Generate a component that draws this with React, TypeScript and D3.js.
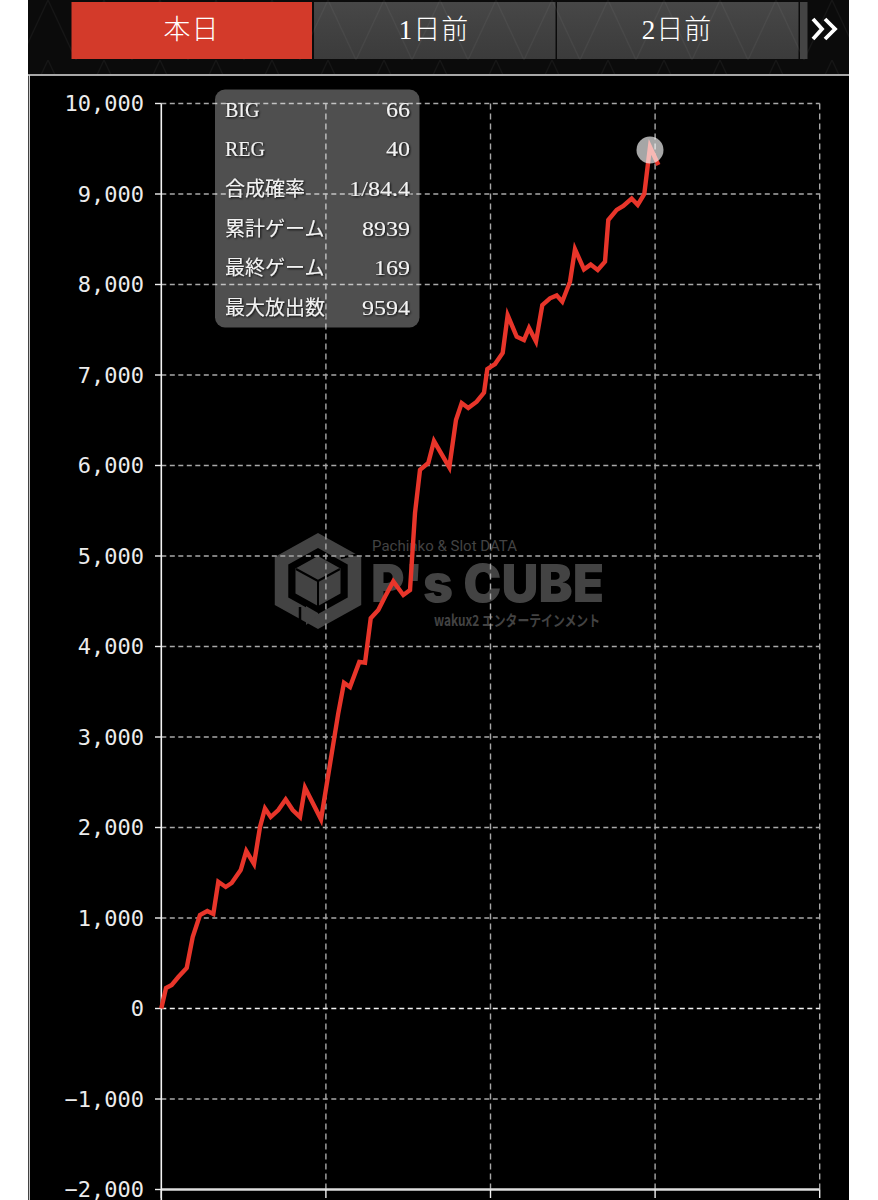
import React from "react";
import * as d3 from "d3";

const tabLabels = ["本日", "1日前", "2日前"];
const statLabels = ["BIG", "REG", "合成確率", "累計ゲーム", "最終ゲーム", "最大放出数"];
const statValues = ["66", "40", "1/84.4", "8939", "169", "9594"];
const yTicks = [-2000, -1000, 0, 1000, 2000, 3000, 4000, 5000, 6000, 7000, 8000, 9000, 10000];
const xTicks = [0, 3000, 6000, 9000, 12000];
const games = [0, 86, 190, 310, 463, 572, 705, 838, 948, 1039, 1174, 1283, 1447, 1549, 1690, 1799, 1890, 1994, 2132, 2267, 2395, 2528, 2619, 2911, 3226, 3330, 3439, 3609, 3713, 3817, 3955, 4077, 4228, 4411, 4533, 4624, 4715, 4866, 4970, 5249, 5371, 5475, 5595, 5748, 5882, 5942, 6082, 6222, 6313, 6477, 6610, 6702, 6829, 6944, 7084, 7206, 7308, 7449, 7540, 7704, 7826, 7954, 8087, 8147, 8300, 8420, 8573, 8683, 8803, 8907, 9060];
const coins = [0, 227, 260, 348, 448, 790, 1033, 1077, 1044, 1400, 1343, 1387, 1530, 1740, 1597, 2006, 2210, 2116, 2193, 2310, 2193, 2116, 2440, 2090, 3265, 3600, 3553, 3830, 3821, 4312, 4404, 4550, 4720, 4569, 4624, 5475, 5951, 6028, 6270, 5980, 6503, 6690, 6636, 6705, 6805, 7066, 7121, 7243, 7660, 7423, 7387, 7520, 7370, 7773, 7848, 7880, 7810, 8031, 8390, 8168, 8220, 8161, 8252, 8713, 8824, 8868, 8950, 8879, 9001, 9520, 9320];
const peakIndex = 69;

const W = 878, H = 1200;
const x = d3.scaleLinear().domain([0, 12000]).range([161.3, 819.7]);
const y = d3.scaleLinear().domain([-2000, 10000]).range([1189.5, 103.5]);
const fmt = d3.format(",");
const MONO = "'DejaVu Sans Mono', monospace";
const SERIF = "'Liberation Serif', 'Noto Sans CJK JP', serif";
const WM = "#434343";

function Logo() {
  const hex = (cx: number, cy: number, r: number) => d3.range(6).map((i) => {
    const a = (Math.PI / 3) * i - Math.PI / 2;
    return `${cx + r * 1.04 * 0.866 * Math.cos(a) / 0.866},${cy + r * Math.sin(a)}`;
  }).join(" ");
  return (
    <g>
      <polygon points={hex(318, 581, 48)} fill={WM} />
      <polygon points={hex(318, 581, 33)} fill="#000" />
      <polygon points={hex(318, 581, 25)} fill={WM} />
      <polyline points="296,569 318,581 340,569" fill="none" stroke="#000" strokeWidth={2} />
      <line x1={318} y1={581} x2={318} y2={606} stroke="#000" strokeWidth={2} />
      <polyline points="276,557 318,581" fill="none" stroke="#000" strokeWidth={0} />
      <line x1={319} y1={533} x2={319} y2={547} stroke="#000" strokeWidth={0} />
      <polyline points="300,543 318,533" fill="none" stroke="#000" strokeWidth={0} />
      <polygon points="306,606 318,613 318,615 306,625" fill={WM} />
      <line x1={300} y1={607} x2={300} y2={630} stroke="#000" strokeWidth={2.5} />
      <line x1={341} y1={558} x2={363} y2={553} stroke="#000" strokeWidth={2} />
      <text x={372} y={551} fontFamily="'Roboto', sans-serif" fontSize={15} fill={WM} textLength={145} lengthAdjust="spacingAndGlyphs">Pachinko &amp; Slot DATA</text>
      <text x={371} y={602} fontFamily="'Inter', 'Roboto', sans-serif" fontWeight={900} fontSize={52} fill={WM} textLength={233} lengthAdjust="spacingAndGlyphs">P's CUBE</text>
      <text x={434} y={626} fontFamily="'Noto Sans CJK JP', sans-serif" fontWeight={700} fontSize={15} fill={WM} textLength={166} lengthAdjust="spacingAndGlyphs">wakux2 エンターテインメント</text>
    </g>
  );
}

export default function App() {
  const pts = games.map((g, i) => [g, coins[i]] as [number, number]);
  const path = d3.line<[number, number]>().x((d) => x(d[0])).y((d) => y(d[1])).curve(d3.curveLinear)(pts) as string;
  const tabX = [71.5, 314, 557];
  return (
    <svg width={W} height={H} viewBox={`0 0 ${W} ${H}`} style={{ position: "absolute", left: 0, top: 0, background: "#fff" }}>
      <defs>
        <pattern id="diamond" width={56} height={60} patternUnits="userSpaceOnUse" x={20} y={0}>
          <path d="M0,60 L28,0 L56,60" fill="none" stroke="#ffffff" strokeOpacity={0.045} strokeWidth={1.2} />
        </pattern>
        <linearGradient id="tabFill" x1="0" y1="0" x2="0" y2="1">
          <stop offset="0" stopColor="#474747" />
          <stop offset="1" stopColor="#3b3b3b" />
        </linearGradient>
        <filter id="ts" x="-10%" y="-30%" width="120%" height="160%">
          <feDropShadow dx={1} dy={1} stdDeviation={0.8} floodColor="#000" floodOpacity={0.9} />
        </filter>
      </defs>
      {/* header */}
      <rect x={28} y={0} width={821} height={75} fill="#0b0b0b" />
      <rect x={28} y={0} width={821} height={75} fill="url(#diamond)" />
      {tabLabels.map((t, i) => (
        <g key={t}>
          <rect x={tabX[i]} y={2} width={i === 0 ? 240.5 : 241.5} height={57} fill={i === 0 ? "#d33a2a" : "url(#tabFill)"} />
          {i > 0 && <rect x={tabX[i]} y={2} width={241.5} height={57} fill="url(#diamond)" />}
          <text x={tabX[i] + 120} y={39} textAnchor="middle" fontFamily={SERIF} fontWeight={300} fontSize={27} fill="#fff" letterSpacing={1}>{t}</text>
        </g>
      ))}
      <rect x={800} y={2} width={7.5} height={57} fill="#444" />
      <polyline points="813,19 822,29 813,39" fill="none" stroke="#fff" strokeWidth={3.8} />
      <polyline points="825,19 835,29 825,39" fill="none" stroke="#fff" strokeWidth={3.8} />
      {/* panel */}
      <rect x={28} y={74} width={821} height={1126} fill="#000" />
      <line x1={28} x2={849} y1={75} y2={75} stroke="#e0e0e0" strokeWidth={1.5} />
      <line x1={29.3} x2={29.3} y1={75} y2={1200} stroke="#ddd" strokeWidth={1.2} />
      <Logo />
      {/* grid */}
      {xTicks.slice(1).map((t) => (
        <line key={t} x1={x(t)} x2={x(t)} y1={y(10000)} y2={y(-2000)} stroke="#a8a8a8" strokeWidth={1.4} strokeDasharray="6,4" />
      ))}
      {yTicks.slice(1).map((t) => (
        <line key={t} x1={x(0)} x2={x(12000)} y1={y(t)} y2={y(t)} stroke={t === 0 ? "#f2f2f2" : "#a8a8a8"} strokeWidth={1.4} strokeDasharray="5,3.5" />
      ))}
      <line x1={x(0)} x2={x(12000)} y1={y(-2000)} y2={y(-2000)} stroke="#ddd" strokeWidth={2.4} />
      <line x1={x(0)} x2={x(0)} y1={y(10000)} y2={H} stroke="#f4f4f4" strokeWidth={1.6} />
      {yTicks.map((t) => (
        <g key={t}>
          <line x1={155} x2={x(0)} y1={y(t)} y2={y(t)} stroke="#eee" strokeWidth={1.4} />
          <text x={144} y={y(t)} dy="0.36em" textAnchor="end" fontFamily={MONO} fontSize={22} fill="#ececec">{fmt(t)}</text>
        </g>
      ))}
      {xTicks.map((t) => (
        <line key={t} x1={x(t)} x2={x(t)} y1={y(-2000)} y2={1198} stroke="#eee" strokeWidth={1.4} />
      ))}
      {/* series */}
      <path d={path} fill="none" stroke="#e8352a" strokeWidth={4.4} strokeLinejoin="miter" strokeMiterlimit={6} />
      <circle cx={x(games[peakIndex])} cy={y(coins[peakIndex]) + 3} r={13.5} fill="#fff" fillOpacity={0.65} />
      {/* stats box */}
      <rect x={215} y={89.5} width={204.5} height={238} rx={10} fill="#fff" fillOpacity={0.31} />
      {statLabels.map((s, i) => (
        <g key={s} filter="url(#ts)" fontFamily={SERIF} fontSize={20} fill="#f2f2f2">
          <text x={225} y={110 + i * 39.6} dy="0.34em">{s}</text>
          <text transform={`translate(410 ${110 + i * 39.6}) scale(1.2 1)`} dy="0.34em" textAnchor="end">{statValues[i]}</text>
        </g>
      ))}
    </svg>
  );
}
